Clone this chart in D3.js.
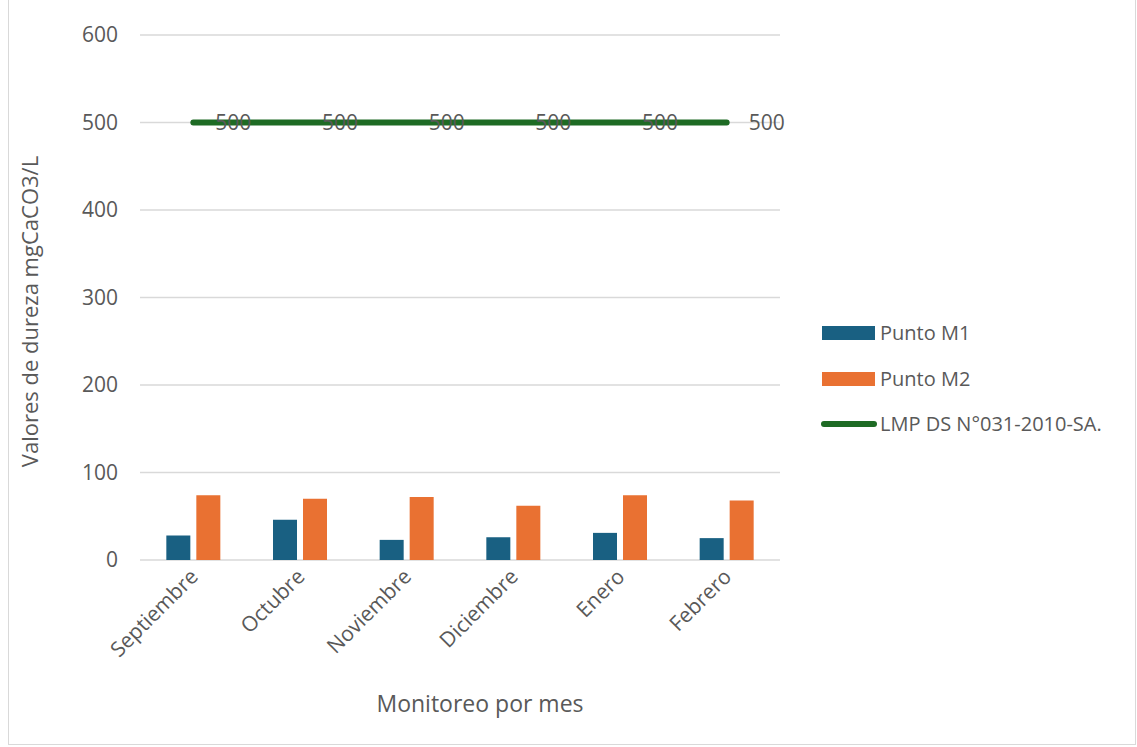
<!DOCTYPE html>
<html>
<head>
<meta charset="utf-8">
<script src="https://cdn.jsdelivr.net/npm/d3@7"></script>
<style>
  body { margin: 0; background: #fff; }
  text { font-family: "Open Sans", sans-serif; fill: #595959; }
</style>
</head>
<body>
<div id="chart"></div>
<script>
var months = ["Septiembre", "Octubre", "Noviembre", "Diciembre", "Enero", "Febrero"];
var puntoM1 = [28, 46, 23, 26, 31, 25];
var puntoM2 = [74, 70, 72, 62, 74, 68];
var lmp = [500, 500, 500, 500, 500, 500];
var yTicks = [0, 100, 200, 300, 400, 500, 600];

var W = 1137, H = 747,
    margin = {top: 35, left: 140, right: 357, bottom: 187},
    width = W - margin.left - margin.right,
    height = H - margin.top - margin.bottom;

var svg = d3.select("#chart").append("svg")
    .attr("width", W)
    .attr("height", H);

// outer chart border
svg.append("rect")
    .attr("x", 8.5).attr("y", -1)
    .attr("width", W - 10).attr("height", H - 1.5)
    .attr("fill", "none")
    .attr("stroke", "#d9d9d9");

var g = svg.append("g")
    .attr("transform", "translate(" + margin.left + "," + margin.top + ")");

var x = d3.scaleBand().domain(months).range([0, width]);
var y = d3.scaleLinear().domain([0, 600]).range([height, 0]);

// gridlines
g.selectAll(".grid")
    .data(yTicks)
    .enter().append("line")
    .attr("x1", 0).attr("x2", width)
    .attr("y1", function (d) { return y(d); })
    .attr("y2", function (d) { return y(d); })
    .attr("stroke", "#d9d9d9")
    .attr("stroke-width", 1.3);

// y tick labels
g.selectAll(".ytick")
    .data(yTicks)
    .enter().append("text")
    .attr("x", -22)
    .attr("y", function (d) { return y(d); })
    .attr("dy", "0.35em")
    .attr("text-anchor", "end")
    .style("font-size", "21px")
    .text(function (d) { return d; });

// bars
var barW = 24, gap = 6;
var series = [
    {values: puntoM1, color: "#196082", offset: -gap / 2 - barW},
    {values: puntoM2, color: "#e97132", offset: gap / 2}
];

series.forEach(function (s) {
    g.selectAll(null)
        .data(months)
        .enter().append("rect")
        .attr("x", function (d) { return x(d) + x.bandwidth() / 2 + s.offset; })
        .attr("y", function (d, i) { return y(s.values[i]); })
        .attr("width", barW)
        .attr("height", function (d, i) { return height - y(s.values[i]); })
        .attr("fill", s.color);
});

// limit line
var line = d3.line()
    .x(function (d, i) { return x(months[i]) + x.bandwidth() / 2; })
    .y(function (d) { return y(d); });

g.append("path")
    .datum(lmp)
    .attr("d", line)
    .attr("fill", "none")
    .attr("stroke", "#1e6b24")
    .attr("stroke-width", 6)
    .attr("stroke-linecap", "round");

g.selectAll(".lbl")
    .data(lmp)
    .enter().append("text")
    .attr("x", function (d, i) { return x(months[i]) + x.bandwidth() / 2 + 22; })
    .attr("y", function (d) { return y(d); })
    .attr("dy", "0.35em")
    .style("font-size", "21px")
    .text(function (d) { return d; });

// x tick labels
g.selectAll(".xtick")
    .data(months)
    .enter().append("text")
    .attr("text-anchor", "end")
    .style("font-size", "21px")
    .attr("transform", function (d) {
        return "translate(" + (x(d) + x.bandwidth() / 2 + 6) + "," + (height + 18) + ") rotate(-45)";
    })
    .text(function (d) { return d; });

// axis titles
svg.append("text")
    .attr("x", 480)
    .attr("y", 712)
    .attr("text-anchor", "middle")
    .style("font-size", "23px")
    .text("Monitoreo por mes");

svg.append("text")
    .attr("transform", "translate(38," + (margin.top + height / 2 + 14) + ") rotate(-90)")
    .attr("text-anchor", "middle")
    .style("font-size", "22px")
    .text("Valores de dureza mgCaCO3/L");

// legend
var legend = svg.append("g").attr("transform", "translate(822,0)");
var items = [
    {name: "Punto M1", color: "#196082", type: "rect", y: 333},
    {name: "Punto M2", color: "#e97132", type: "rect", y: 379},
    {name: "LMP DS N°031-2010-SA.", color: "#1e6b24", type: "line", y: 424}
];
items.forEach(function (it) {
    if (it.type === "rect") {
        legend.append("rect")
            .attr("x", 0).attr("y", it.y - 7)
            .attr("width", 53).attr("height", 14)
            .attr("fill", it.color);
    } else {
        legend.append("line")
            .attr("x1", 2).attr("x2", 52)
            .attr("y1", it.y).attr("y2", it.y)
            .attr("stroke", it.color)
            .attr("stroke-width", 6)
            .attr("stroke-linecap", "round");
    }
    legend.append("text")
        .attr("x", 58).attr("y", it.y)
        .attr("dy", "0.35em")
        .style("font-size", "20px")
        .text(it.name);
});
</script>
</body>
</html>
